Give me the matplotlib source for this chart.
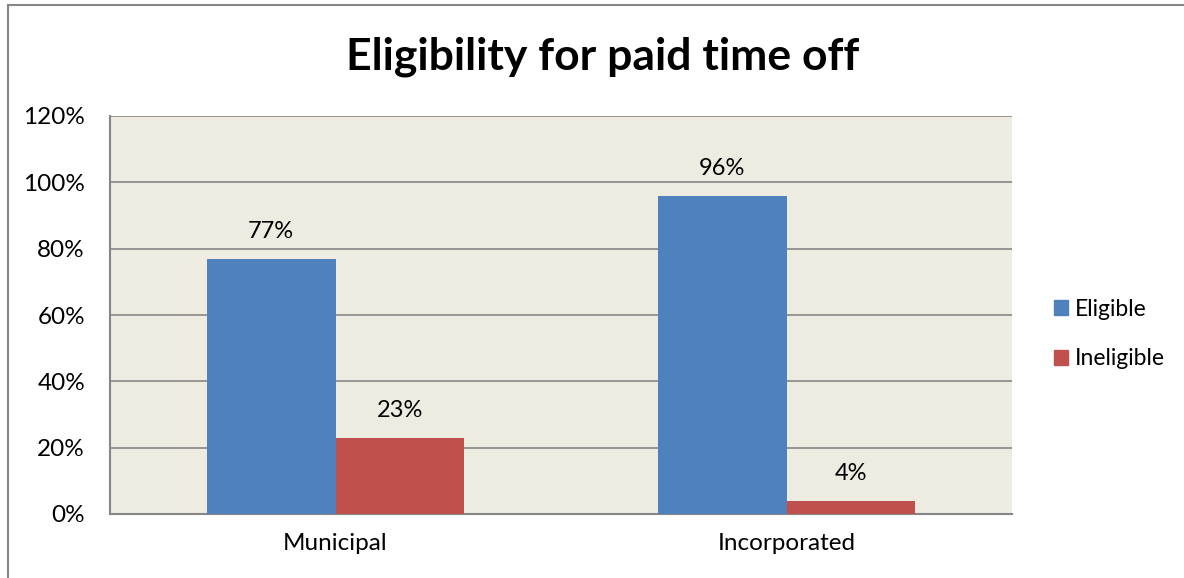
import matplotlib
matplotlib.use("Agg")
import matplotlib.pyplot as plt
from matplotlib.lines import Line2D
from matplotlib.patches import Patch
import numpy as np

categories = ["Municipal", "Incorporated"]
series_names = ["Eligible", "Ineligible"]
eligible = [77, 96]
ineligible = [23, 4]
yticks = [0, 20, 40, 60, 80, 100, 120]
title = "Eligibility for paid time off"

blue = "#4F81BD"
red = "#C0504D"
bg = "#EEECE1"
grid = "#868686"

plt.rcParams['font.family'] = ['Lato', 'DejaVu Sans']

fig = plt.figure(figsize=(11.84, 5.78), dpi=100)
ax = fig.add_axes([110/1184, 1-514/578, (1012-110)/1184, (514-116)/578])
ax.set_facecolor(bg)

x = np.arange(len(categories))
w = 0.286
b1 = ax.bar(x - w/2, eligible, w, color=blue, zorder=3, label=series_names[0])
b2 = ax.bar(x + w/2, ineligible, w, color=red, zorder=3, label=series_names[1])
for bars, vals in ((b1, eligible), (b2, ineligible)):
    for r, v in zip(bars, vals):
        ax.annotate(f"{v}%", (r.get_x() + r.get_width()/2, v), xytext=(0, 12),
                    textcoords="offset points", ha="center", va="bottom", fontsize=17)

ax.set_xlim(-0.5, 1.5)
ax.set_ylim(0, 120)
ax.set_yticks(yticks)
ax.set_yticklabels([f"{t}%" for t in yticks], fontsize=17.5)
ax.set_xticks(x)
ax.set_xticklabels(categories, fontsize=17.5)
ax.tick_params(length=0)
ax.tick_params(axis='x', pad=14)
ax.tick_params(axis='y', pad=18)
ax.grid(axis='y', color=grid, linewidth=1.2, zorder=1)
for s in ["top", "right"]:
    ax.spines[s].set_visible(False)
for s in ["left", "bottom"]:
    ax.spines[s].set_color(grid)
    ax.spines[s].set_linewidth(1.5)

handles = [Patch(color=blue), Patch(color=red)]
fig.legend(handles, series_names, loc="center left", bbox_to_anchor=(1033/1184, 1-334/578),
           frameon=False, fontsize=16.5, handlelength=0.62, handleheight=0.62,
           handletextpad=0.3, labelspacing=1.25)

fig.text(603/1184, 1-57/578, title, ha="center", va="center", fontsize=32, fontweight="bold")

fig.add_artist(Line2D([8/1184, 8/1184], [0, 1-4.5/578], color="#868686", linewidth=1.5))
fig.add_artist(Line2D([8/1184, 1], [1-4.5/578, 1-4.5/578], color="#868686", linewidth=1.5))

fig.savefig("out.png", dpi=100)
